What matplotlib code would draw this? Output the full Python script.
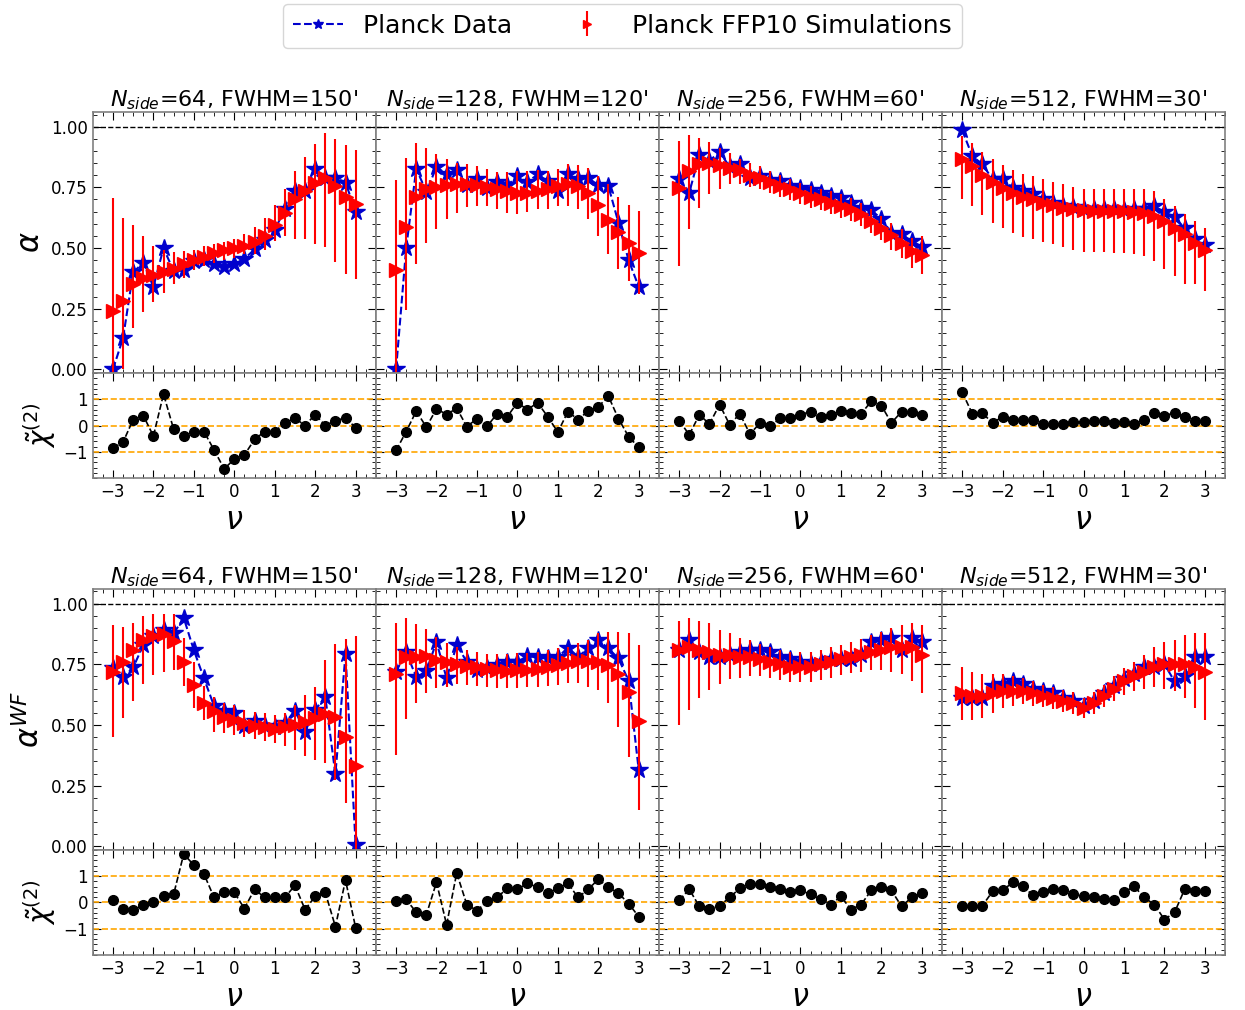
import numpy as np
import matplotlib
matplotlib.use("Agg")
import matplotlib.pyplot as plt
from matplotlib.ticker import MultipleLocator, FormatStrFormatter

nu = np.linspace(-3, 3, 25)

titles = [r"$N_{side}$=64, FWHM=150'", r"$N_{side}$=128, FWHM=120'",
          r"$N_{side}$=256, FWHM=60'", r"$N_{side}$=512, FWHM=30'"]

# ---------------- alpha (top row) ----------------
data_64 = [0.00, 0.13, 0.40, 0.44, 0.34, 0.50, 0.405, 0.41, 0.445, 0.45, 0.435, 0.42, 0.435,
           0.455, 0.495, 0.535, 0.575, 0.66, 0.735, 0.735, 0.825, 0.79, 0.79, 0.77, 0.65]
sim_64 = [0.24, 0.28, 0.35, 0.375, 0.39, 0.40, 0.415, 0.435, 0.45, 0.465, 0.48, 0.49, 0.50,
          0.51, 0.525, 0.55, 0.595, 0.645, 0.70, 0.735, 0.77, 0.79, 0.755, 0.71, 0.68]
lo_64 = [-0.10, 0.00, 0.172, 0.236, 0.277, 0.316, 0.353, 0.378, 0.408, 0.426, 0.44, 0.449, 0.46,
         0.474, 0.474, 0.494, 0.529, 0.549, 0.536, 0.536, 0.515, 0.505, 0.443, 0.394, 0.371]
hi_64 = [0.707, 0.625, 0.593, 0.549, 0.508, 0.494, 0.483, 0.487, 0.494, 0.508, 0.515, 0.525, 0.536,
         0.556, 0.586, 0.625, 0.676, 0.745, 0.817, 0.875, 0.93, 0.972, 0.95, 0.924, 0.902]
chi_64 = [-0.86, -0.63, 0.23, 0.38, -0.40, 1.20, -0.14, -0.38, -0.23, -0.23, -0.93, -1.65, -1.28,
          -1.12, -0.53, -0.23, -0.23, 0.10, 0.28, 0.00, 0.42, 0.00, 0.19, 0.29, -0.08]

data_128 = [0.00, 0.50, 0.827, 0.731, 0.835, 0.803, 0.82, 0.758, 0.783, 0.747, 0.772, 0.758, 0.796,
            0.772, 0.803, 0.776, 0.735, 0.803, 0.783, 0.79, 0.758, 0.755, 0.604, 0.45, 0.341]
sim_128 = [0.409, 0.588, 0.711, 0.742, 0.753, 0.761, 0.764, 0.764, 0.761, 0.75, 0.742, 0.733, 0.728,
           0.728, 0.735, 0.745, 0.755, 0.762, 0.757, 0.728, 0.677, 0.615, 0.566, 0.519, 0.481]
lo_128 = [-0.10, 0.245, 0.433, 0.522, 0.58, 0.621, 0.646, 0.67, 0.673, 0.673, 0.662, 0.646, 0.639,
          0.648, 0.659, 0.662, 0.673, 0.673, 0.659, 0.618, 0.549, 0.474, 0.415, 0.364, 0.309]
hi_128 = [0.779, 0.872, 0.934, 0.913, 0.886, 0.865, 0.851, 0.845, 0.838, 0.824, 0.814, 0.813, 0.817,
          0.817, 0.82, 0.817, 0.827, 0.845, 0.841, 0.831, 0.797, 0.762, 0.711, 0.676, 0.652]
chi_128 = [-0.95, -0.23, 0.55, -0.06, 0.64, 0.42, 0.66, -0.04, 0.26, -0.03, 0.45, 0.34, 0.87,
           0.61, 0.87, 0.34, -0.25, 0.53, 0.23, 0.55, 0.71, 1.12, 0.26, -0.42, -0.83]

data_256 = [0.786, 0.728, 0.883, 0.86, 0.895, 0.835, 0.845, 0.79, 0.796, 0.78, 0.776, 0.755, 0.746,
            0.739, 0.725, 0.714, 0.707, 0.684, 0.663, 0.656, 0.621, 0.563, 0.556, 0.529, 0.506]
sim_256 = [0.746, 0.817, 0.845, 0.852, 0.841, 0.831, 0.82, 0.799, 0.787, 0.772, 0.755, 0.742, 0.725,
           0.711, 0.70, 0.687, 0.673, 0.659, 0.639, 0.611, 0.584, 0.552, 0.522, 0.487, 0.471]
lo_256 = [0.426, 0.577, 0.666, 0.721, 0.744, 0.762, 0.762, 0.753, 0.742, 0.728, 0.711, 0.698, 0.68,
          0.666, 0.656, 0.641, 0.625, 0.611, 0.59, 0.56, 0.533, 0.494, 0.46, 0.419, 0.395]
hi_256 = [0.94, 0.964, 0.954, 0.937, 0.913, 0.893, 0.868, 0.851, 0.838, 0.817, 0.799, 0.786, 0.769,
          0.755, 0.744, 0.735, 0.721, 0.707, 0.687, 0.659, 0.632, 0.604, 0.577, 0.543, 0.549]
chi_256 = [0.19, -0.35, 0.41, 0.06, 0.80, 0.03, 0.45, -0.32, 0.09, -0.03, 0.28, 0.28, 0.42,
           0.53, 0.32, 0.41, 0.55, 0.48, 0.45, 0.92, 0.76, 0.10, 0.53, 0.51, 0.42]

data_512 = [0.985, 0.879, 0.845, 0.783, 0.783, 0.749, 0.735, 0.721, 0.70, 0.684, 0.673, 0.67, 0.662,
            0.662, 0.662, 0.659, 0.656, 0.659, 0.662, 0.673, 0.648, 0.629, 0.581, 0.536, 0.511]
sim_512 = [0.868, 0.838, 0.801, 0.772, 0.746, 0.728, 0.711, 0.70, 0.687, 0.676, 0.666, 0.659, 0.655,
           0.653, 0.653, 0.653, 0.653, 0.65, 0.645, 0.632, 0.611, 0.581, 0.556, 0.519, 0.49]
lo_512 = [0.703, 0.673, 0.635, 0.604, 0.581, 0.563, 0.547, 0.536, 0.525, 0.515, 0.505, 0.494, 0.485,
          0.484, 0.484, 0.481, 0.478, 0.474, 0.467, 0.446, 0.415, 0.385, 0.35, 0.35, 0.323]
hi_512 = [0.961, 0.934, 0.895, 0.865, 0.841, 0.82, 0.806, 0.797, 0.783, 0.772, 0.762, 0.751, 0.744,
          0.742, 0.742, 0.742, 0.742, 0.742, 0.742, 0.735, 0.703, 0.673, 0.642, 0.611, 0.584]
chi_512 = [1.27, 0.45, 0.47, 0.10, 0.34, 0.22, 0.23, 0.22, 0.06, 0.06, 0.06, 0.13, 0.15,
           0.16, 0.16, 0.10, 0.15, 0.06, 0.23, 0.47, 0.38, 0.48, 0.32, 0.16, 0.19]

# ---------------- alpha^WF (bottom row) ----------------
wf_data_64 = [0.733, 0.696, 0.737, 0.829, 0.866, 0.89, 0.877, 0.941, 0.808, 0.692, 0.578, 0.558, 0.548,
              0.497, 0.516, 0.497, 0.493, 0.507, 0.559, 0.473, 0.562, 0.616, 0.297, 0.792, 0.007]
wf_sim_64 = [0.719, 0.758, 0.808, 0.849, 0.866, 0.874, 0.847, 0.76, 0.664, 0.592, 0.558, 0.534, 0.521,
             0.507, 0.497, 0.49, 0.484, 0.493, 0.50, 0.511, 0.527, 0.545, 0.532, 0.452, 0.329]
wf_lo_64 = [0.452, 0.527, 0.60, 0.668, 0.705, 0.719, 0.726, 0.66, 0.57, 0.52, 0.473, 0.466, 0.459,
            0.452, 0.441, 0.432, 0.425, 0.414, 0.397, 0.373, 0.356, 0.342, 0.274, 0.178, -0.10]
wf_hi_64 = [0.911, 0.904, 0.921, 0.948, 0.959, 0.959, 0.956, 0.86, 0.76, 0.66, 0.616, 0.589, 0.582,
            0.562, 0.555, 0.548, 0.541, 0.551, 0.582, 0.623, 0.658, 0.767, 0.833, 0.856, 0.866]
wf_chi_64 = [0.10, -0.23, -0.30, -0.08, 0.00, 0.23, 0.31, 1.85, 1.42, 1.08, 0.19, 0.38, 0.38,
             -0.23, 0.50, 0.19, 0.19, 0.19, 0.65, -0.27, 0.23, 0.38, -0.92, 0.85, -0.96]

wf_data_128 = [0.719, 0.801, 0.696, 0.723, 0.842, 0.692, 0.829, 0.76, 0.726, 0.733, 0.747, 0.76, 0.76,
               0.784, 0.778, 0.774, 0.778, 0.819, 0.781, 0.815, 0.849, 0.815, 0.774, 0.682, 0.315]
wf_sim_128 = [0.71, 0.778, 0.778, 0.784, 0.767, 0.76, 0.751, 0.742, 0.737, 0.729, 0.726, 0.723, 0.726,
              0.726, 0.729, 0.737, 0.747, 0.756, 0.763, 0.764, 0.76, 0.747, 0.708, 0.637, 0.516]
wf_lo_128 = [0.377, 0.523, 0.589, 0.63, 0.651, 0.658, 0.668, 0.664, 0.66, 0.655, 0.651, 0.651, 0.651,
             0.655, 0.658, 0.66, 0.664, 0.671, 0.674, 0.658, 0.644, 0.589, 0.493, 0.37, 0.151]
wf_hi_128 = [0.918, 0.942, 0.915, 0.897, 0.863, 0.838, 0.822, 0.808, 0.801, 0.792, 0.792, 0.792, 0.795,
             0.797, 0.801, 0.808, 0.815, 0.822, 0.836, 0.849, 0.877, 0.884, 0.884, 0.877, 0.829]
wf_chi_128 = [0.04, 0.12, -0.38, -0.46, 0.77, -0.85, 1.12, -0.08, -0.31, 0.04, 0.19, 0.54, 0.50,
              0.73, 0.58, 0.35, 0.54, 0.73, 0.19, 0.50, 0.88, 0.58, 0.35, -0.04, -0.54]

wf_data_256 = [0.81, 0.85, 0.80, 0.78, 0.78, 0.79, 0.80, 0.81, 0.81, 0.80, 0.78, 0.77, 0.76,
               0.75, 0.76, 0.77, 0.77, 0.77, 0.79, 0.84, 0.85, 0.86, 0.81, 0.86, 0.84]
wf_sim_256 = [0.81, 0.82, 0.81, 0.80, 0.79, 0.79, 0.78, 0.78, 0.77, 0.76, 0.75, 0.74, 0.74,
              0.74, 0.75, 0.76, 0.77, 0.78, 0.79, 0.80, 0.81, 0.82, 0.82, 0.82, 0.79]
wf_lo_256 = [0.50, 0.56, 0.61, 0.645, 0.67, 0.69, 0.695, 0.70, 0.70, 0.695, 0.685, 0.675, 0.675,
             0.675, 0.685, 0.695, 0.705, 0.715, 0.72, 0.725, 0.725, 0.72, 0.71, 0.68, 0.63]
wf_hi_256 = [0.93, 0.94, 0.93, 0.92, 0.89, 0.88, 0.86, 0.85, 0.835, 0.82, 0.81, 0.80, 0.80,
             0.80, 0.81, 0.82, 0.83, 0.84, 0.855, 0.87, 0.885, 0.90, 0.91, 0.92, 0.91]
wf_chi_256 = [0.08, 0.50, -0.15, -0.23, -0.12, 0.19, 0.54, 0.69, 0.69, 0.58, 0.50, 0.38, 0.46,
              0.31, 0.12, -0.08, 0.23, -0.27, -0.08, 0.46, 0.58, 0.46, -0.15, 0.19, 0.35]

wf_data_512 = [0.61, 0.61, 0.61, 0.66, 0.67, 0.68, 0.67, 0.65, 0.64, 0.63, 0.61, 0.60, 0.58,
               0.60, 0.63, 0.66, 0.69, 0.71, 0.74, 0.74, 0.75, 0.68, 0.70, 0.78, 0.78]
wf_sim_512 = [0.63, 0.62, 0.62, 0.63, 0.64, 0.64, 0.64, 0.63, 0.62, 0.61, 0.60, 0.59, 0.57,
              0.59, 0.62, 0.65, 0.68, 0.70, 0.72, 0.74, 0.75, 0.75, 0.75, 0.74, 0.72]
wf_lo_512 = [0.52, 0.52, 0.53, 0.55, 0.57, 0.58, 0.585, 0.58, 0.575, 0.565, 0.555, 0.545, 0.53,
             0.545, 0.575, 0.60, 0.625, 0.64, 0.65, 0.655, 0.65, 0.64, 0.61, 0.57, 0.52]
wf_hi_512 = [0.74, 0.72, 0.71, 0.71, 0.71, 0.70, 0.695, 0.68, 0.665, 0.655, 0.645, 0.635, 0.61,
             0.635, 0.665, 0.70, 0.735, 0.76, 0.79, 0.82, 0.84, 0.85, 0.87, 0.88, 0.88]
wf_chi_512 = [-0.12, -0.12, -0.12, 0.42, 0.46, 0.77, 0.62, 0.27, 0.38, 0.50, 0.46, 0.31, 0.23,
              0.19, 0.12, 0.08, 0.38, 0.62, 0.19, -0.08, -0.65, -0.38, 0.50, 0.42, 0.42]

rows = [
    (r"$\alpha$",
     [data_64, data_128, data_256, data_512],
     [sim_64, sim_128, sim_256, sim_512],
     [lo_64, lo_128, lo_256, lo_512],
     [hi_64, hi_128, hi_256, hi_512],
     [chi_64, chi_128, chi_256, chi_512]),
    (r"$\alpha^{WF}$",
     [wf_data_64, wf_data_128, wf_data_256, wf_data_512],
     [wf_sim_64, wf_sim_128, wf_sim_256, wf_sim_512],
     [wf_lo_64, wf_lo_128, wf_lo_256, wf_lo_512],
     [wf_hi_64, wf_hi_128, wf_hi_256, wf_hi_512],
     [wf_chi_64, wf_chi_128, wf_chi_256, wf_chi_512]),
]


def style(ax):
    for s in ax.spines.values():
        s.set_color("gray")
        s.set_linewidth(1.2)
    ax.tick_params(which="both", direction="in", top=True, right=True, labelsize=12)
    ax.tick_params(which="major", length=6)
    ax.tick_params(which="minor", length=3)


fig = plt.figure(figsize=(12.45, 10.10), dpi=100)
gs = fig.add_gridspec(5, 4, height_ratios=[261, 105, 111, 261, 105], hspace=0, wspace=0,
                      left=0.0745, right=0.984, top=0.889, bottom=0.0545)

handles = None
for r, (ylab, dat, sim, lo, hi, chi) in enumerate(rows):
    for c in range(4):
        ax = fig.add_subplot(gs[3 * r, c])
        sub = fig.add_subplot(gs[3 * r + 1, c], sharex=ax)

        s = np.array(sim[c])
        yerr = [s - np.array(lo[c]), np.array(hi[c]) - s]
        ax.axhline(1.0, color="black", ls="--", lw=1)
        p1, = ax.plot(nu, dat[c], "--*", color="mediumblue", ms=13, lw=1.5, label="Planck Data")
        p2 = ax.errorbar(nu, s, yerr=yerr, fmt=">", color="red", ms=10, elinewidth=1.5,
                         capsize=0, label="Planck FFP10 Simulations")
        if handles is None:
            handles = [p1, p2]

        ax.set_xlim(-3.5, 3.5)
        ax.set_ylim(-0.015, 1.06)
        ax.set_yticks([0, 0.25, 0.5, 0.75, 1.0])
        ax.yaxis.set_major_formatter(FormatStrFormatter("%.2f"))
        ax.yaxis.set_minor_locator(MultipleLocator(0.05))
        ax.xaxis.set_major_locator(MultipleLocator(1))
        ax.xaxis.set_minor_locator(MultipleLocator(0.25))
        ax.tick_params(labelbottom=False)
        ax.set_title(titles[c], fontsize=16, pad=4)
        style(ax)

        for yy in (-1, 0, 1):
            sub.axhline(yy, color="orange", ls="--", lw=1.2)
        sub.plot(nu, chi[c], "--o", color="black", ms=7, lw=1.2)
        sub.set_ylim(-2, 2)
        sub.set_yticks([-1, 0, 1])
        sub.yaxis.set_minor_locator(MultipleLocator(0.2))
        sub.set_xticks([-3, -2, -1, 0, 1, 2, 3])
        sub.xaxis.set_minor_locator(MultipleLocator(0.25))
        sub.set_xlabel(r"$\nu$", fontsize=22)
        style(sub)

        if c == 0:
            ax.set_ylabel(ylab, fontsize=22)
            sub.set_ylabel(r"$\tilde{\chi}^{(2)}$", fontsize=20)
        else:
            ax.tick_params(labelleft=False)
            sub.tick_params(labelleft=False)

fig.legend(handles, ["Planck Data", "Planck FFP10 Simulations"], loc="upper center",
           bbox_to_anchor=(0.5, 0.999), borderaxespad=0.1, ncol=2, fontsize=18, markerscale=0.6)

fig.savefig("out.png", dpi=100)
